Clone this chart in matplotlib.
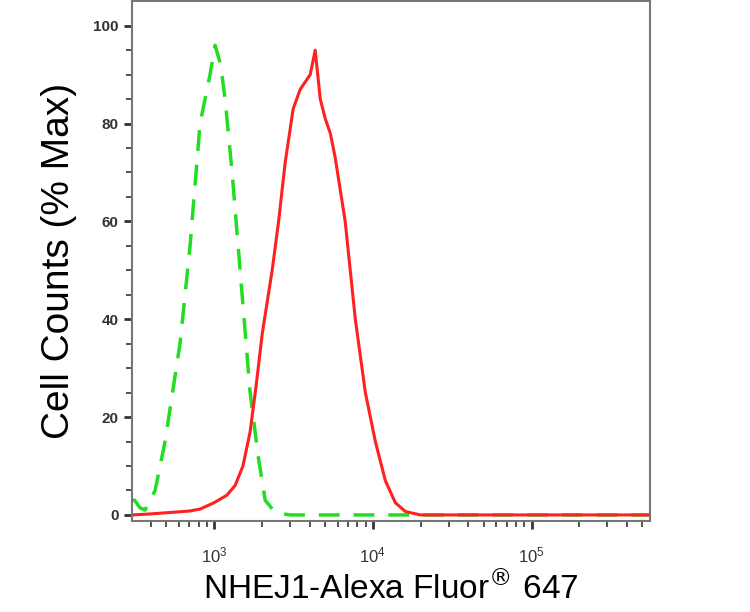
import matplotlib
matplotlib.use("Agg")
import matplotlib.pyplot as plt
from matplotlib.ticker import LogLocator, NullFormatter, FixedLocator

red_x = [304, 395, 700, 816, 1000, 1200, 1356, 1520, 1687, 1850, 2010, 2323, 2550, 2805, 3150, 3490, 4035, 4337, 4667, 5016, 5400, 5800, 6700, 7760, 8980, 10380, 12000, 13870, 16040, 19950, 560000]
red_y = [0, 0.2, 0.8, 1.2, 2.5, 4, 6, 10, 17, 27, 37, 50, 60, 72, 83, 87, 90, 95, 85, 81, 78, 73, 60, 40, 25, 15, 7, 2.5, 0.7, 0, 0]
green_x = [304, 316, 340, 367, 425, 491, 610, 706, 816, 943, 1015, 1100, 1173, 1299, 1459, 1687, 1896, 2099, 2427, 3000, 560000]
green_y = [3, 3, 1.5, 1, 5, 15, 35, 55, 80, 90, 96, 92, 85, 70, 50, 25, 12, 3, 0.5, 0, 0]
yticks = [0, 20, 40, 60, 80, 100]

plt.rcParams['font.family'] = ['Liberation Sans', 'DejaVu Sans']
fig = plt.figure(figsize=(7.5, 6.12), dpi=100)
ax = fig.add_axes([0.176, 0.149, 0.691, 0.849])
ax.plot(green_x, green_y, color='#22dd22', lw=2.5, dashes=(6, 4))
ax.plot(red_x, red_y, color='#ff2020', lw=2.2)
ax.set_xscale('log')
ax.set_xlim(304, 5.6e5)
ax.set_ylim(-1.2, 105)
ax.set_yticks(yticks)
ax.set_yticklabels([str(v) for v in yticks], fontsize=11, fontweight='bold', color='#333333')
ax.yaxis.set_minor_locator(FixedLocator([v + 5 * k for v in yticks[:-1] for k in (1, 2, 3)]))
ax.xaxis.set_major_locator(LogLocator(base=10, numticks=10))
ax.xaxis.set_minor_locator(LogLocator(base=10, subs=range(2, 10), numticks=50))
ax.xaxis.set_minor_formatter(NullFormatter())
ax.tick_params(axis='both', which='major', length=6, width=2, color='#333333')
ax.tick_params(axis='both', which='minor', length=4, width=1.2, color='#333333')
ax.tick_params(axis='x', labelsize=12, labelcolor='#333333', pad=12)
for s in ax.spines.values():
    s.set_color('#777777')
    s.set_linewidth(1.5)
ax.set_ylabel('Cell Counts (% Max)', fontsize=28, labelpad=12)
ax.set_xlabel('NHEJ1-Alexa Fluor$^{\\circledR}$ 647', fontsize=24, labelpad=4)
fig.savefig('out.png', dpi=100)
